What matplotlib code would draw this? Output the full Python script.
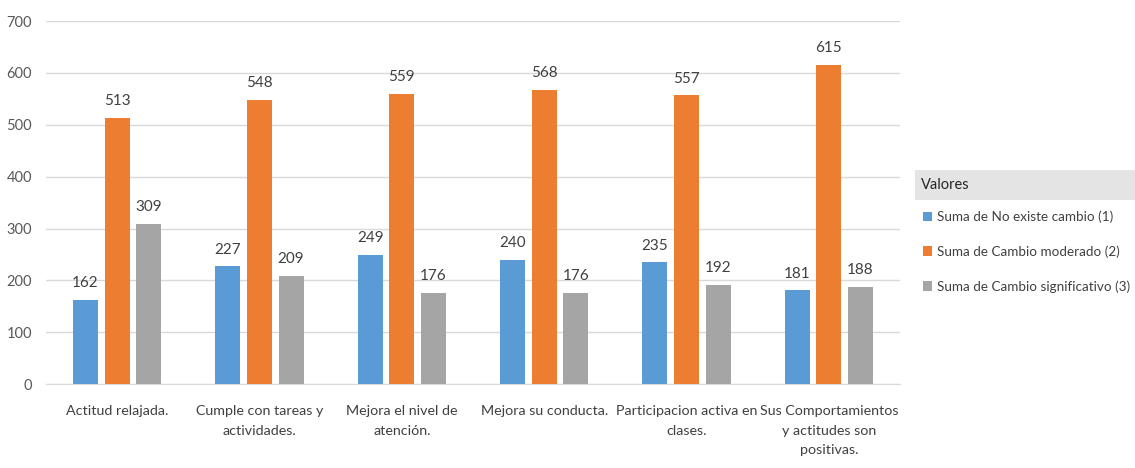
import numpy as np
import matplotlib.pyplot as plt
from matplotlib.patches import Rectangle

categories = [
    'Actitud relajada.',
    'Cumple con tareas y\nactividades.',
    'Mejora el nivel de\natención.',
    'Mejora su conducta.',
    'Participacion activa en\nclases.',
    'Sus Comportamientos\ny actitudes son\npositivas.',
]
series_names = [
    'Suma de No existe cambio (1)',
    'Suma de Cambio moderado (2)',
    'Suma de Cambio significativo (3)',
]
no_change = [162, 227, 249, 240, 235, 181]
moderate = [513, 548, 559, 568, 557, 615]
significant = [309, 209, 176, 176, 192, 188]
colors = ['#5b9bd5', '#ed7d31', '#a5a5a5']

plt.rcParams['font.family'] = ['Lato', 'DejaVu Sans']

fig = plt.figure(figsize=(11.35, 4.68), dpi=100)
ax = fig.add_axes([0.0405, 0.179, 0.7525, 0.776])

x = np.arange(len(categories))
width = 0.175
step = 0.222
for i, (vals, name, c) in enumerate(zip([no_change, moderate, significant], series_names, colors)):
    bars = ax.bar(x + (i - 1) * step, vals, width, color=c, label=name, zorder=3)
    for b, v in zip(bars, vals):
        ax.annotate(str(v), (b.get_x() + b.get_width() / 2, v), xytext=(0, 7),
                    textcoords='offset points', ha='center', va='bottom',
                    fontsize=11, color='#404040')

ax.set_xlim(-0.5, len(categories) - 0.5)
ax.set_ylim(0, 700)
ax.set_yticks(range(0, 701, 100))
ax.set_xticks(x)
ax.set_xticklabels(categories, fontsize=10.3, color='#404040')
for tick in ax.xaxis.get_major_ticks():
    tick.label1.set_linespacing(1.75)
ax.tick_params(axis='y', length=0, labelsize=10.5, labelcolor='#595959', pad=10)
ax.tick_params(axis='x', length=0, pad=15)
ax.yaxis.grid(True, color='#d9d9d9', linewidth=1, zorder=0)
for s in ['top', 'right', 'left']:
    ax.spines[s].set_visible(False)
ax.spines['bottom'].set_color('#d9d9d9')

# legend title box
fig.patches.append(Rectangle((0.806, 0.573), 0.194, 0.064, transform=fig.transFigure,
                             facecolor='#e4e4e4', edgecolor='none'))
fig.text(0.811, 0.605, 'Valores', fontsize=10.5, color='#262626', va='center', ha='left')
leg = fig.legend(loc='upper left', bbox_to_anchor=(0.813, 0.55), frameon=False,
                 fontsize=9.7, labelspacing=1.65, handlelength=0.7, handleheight=0.7,
                 handletextpad=0.35, borderaxespad=0, borderpad=0)
for t in leg.get_texts():
    t.set_color('#404040')

fig.savefig('out.png', dpi=100)
